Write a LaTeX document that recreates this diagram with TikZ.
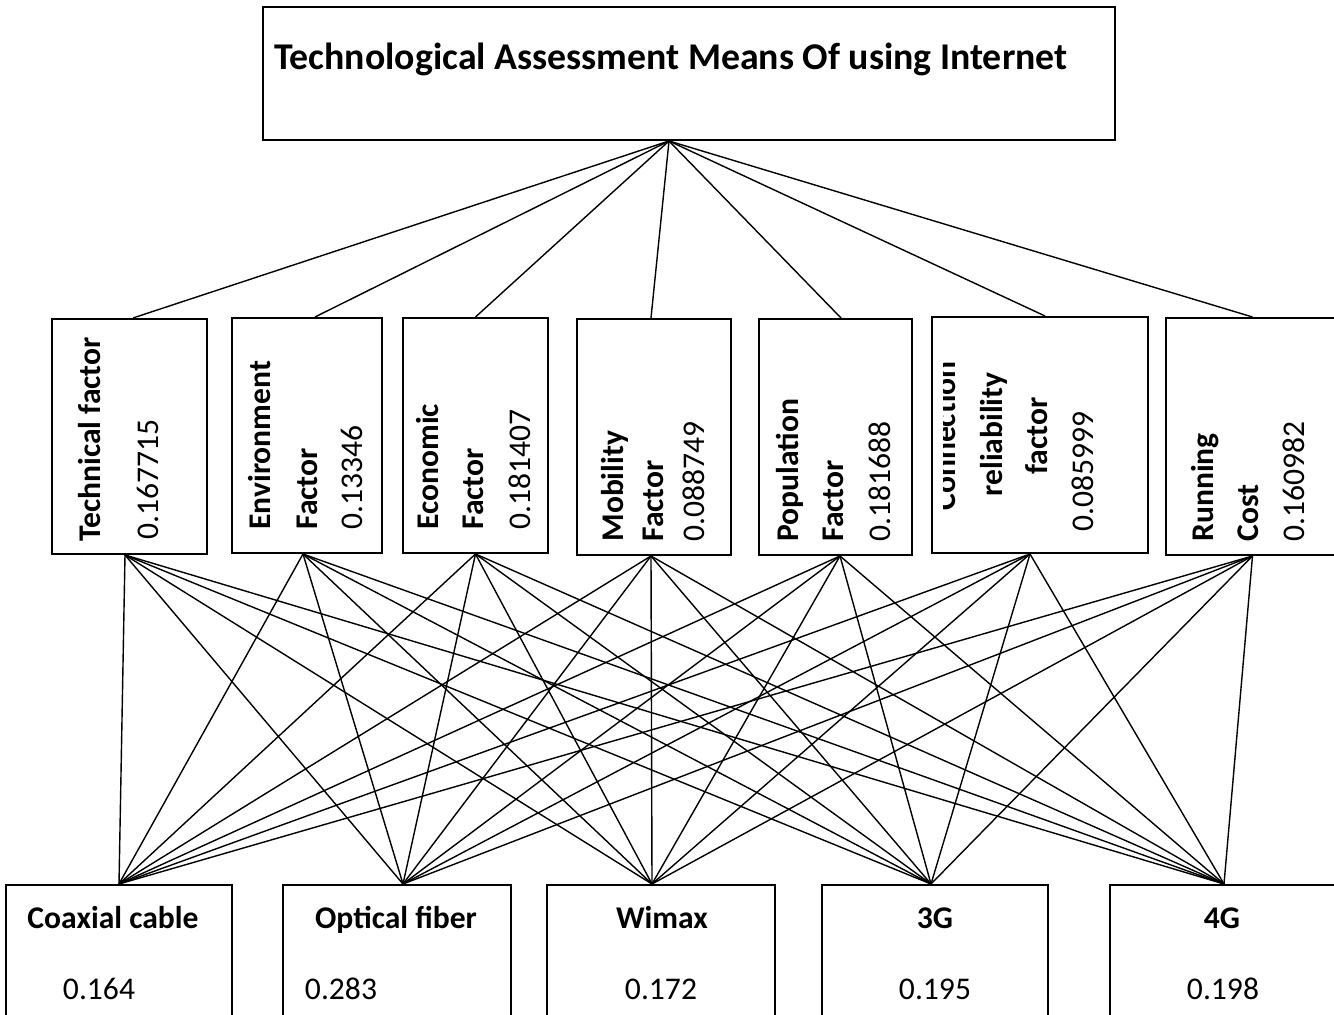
\documentclass[tikz,border=0pt]{standalone}
\usepackage{fontspec}
\setmainfont{Carlito}
\tikzset{
	box/.style={draw, line width=1pt, inner sep=0pt},
	link/.style={line width=0.7pt},
	lbl/.style={font=\fontsize{15.8}{19}\selectfont\bfseries, inner sep=0pt},
	num/.style={font=\fontsize{15.8}{19}\selectfont, inner sep=0pt},
	headline/.style={font=\fontsize{18.9}{22}\selectfont\bfseries, inner sep=0pt},
	vert/.style={rotate=90, anchor=base west}}

\begin{document}
\begin{tikzpicture}[x=0.5pt, y=-0.5pt]
		\clip (0,0) rectangle (1334,1015);

		% goal
		\node[box, minimum width=426pt, minimum height=66.5pt] (goal) at (689,73.5) {};
		\node[headline, anchor=base west] (goaltext) at (274,70) {Technological Assessment Means Of using Internet};
		\coordinate (apex) at ([xshift=-10pt]goal.south);

		% criteria
		\node[box, minimum width=77.5pt, minimum height=117.5pt] (f1) at (129.5,436.5) {};
		\node[box, minimum width=75pt, minimum height=117.5pt] (f2) at (307,435.5) {};
		\node[box, minimum width=72.5pt, minimum height=117.5pt] (f3) at (475.5,435.5) {};
		\node[box, minimum width=77pt, minimum height=118pt] (f4) at (654,437) {};
		\node[box, minimum width=76.5pt, minimum height=118pt] (f5) at (835.5,437) {};
		\node[box, minimum width=108pt, minimum height=118pt] (f6) at (1040,435) {};
		\node[box, minimum width=86.5pt, minimum height=118.5pt] (f7) at (1252.5,436.5) {};

		\node[lbl, vert] (f1n) at (100,542) {Technical factor};
		\node[num, vert] (f1v) at (158,540) {0.167715};
		\node[lbl, vert] (f2n) at (270,530) {Environment};
		\node[lbl, vert] (f2m) at (317,530) {Factor};
		\node[num, vert] (f2v) at (362,530) {0.13346};
		\node[lbl, vert] (f3n) at (438,530) {Economic};
		\node[lbl, vert] (f3m) at (483,530) {Factor};
		\node[num, vert] (f3v) at (530,530) {0.181407};
		\node[lbl, vert] (f4n) at (623,542) {Mobility};
		\node[lbl, vert] (f4m) at (663,542) {Factor};
		\node[num, vert] (f4v) at (704,542) {0.088749};
		\node[lbl, vert] (f5n) at (798,542) {Population};
		\node[lbl, vert] (f5m) at (843,542) {Factor};
		\node[num, vert] (f5v) at (890,542) {0.181688};
		\begin{scope}
			\clip (943,318) rectangle (1148,553);
			\node[lbl, rotate=90, anchor=base] (f6n) at (955,436) {Connection};
		\end{scope}
		\node[lbl, rotate=90, anchor=base] (f6m) at (1002,434.5) {reliability};
		\node[lbl, rotate=90, anchor=base] (f6k) at (1047,436) {factor};
		\node[num, rotate=90, anchor=base] (f6v) at (1093,471.5) {0.085999};
		\node[lbl, vert] (f7n) at (1213,542) {Running};
		\node[lbl, vert] (f7m) at (1258,542) {Cost};
		\node[num, vert] (f7v) at (1304,542) {0.160982};

		% alternatives
		\node[box, minimum width=113pt, minimum height=77.5pt] (a1) at (119,962.5) {};
		\node[box, minimum width=114pt, minimum height=77.5pt] (a2) at (397,962.5) {};
		\node[box, minimum width=114pt, minimum height=77.5pt] (a3) at (661,962.5) {};
		\node[box, minimum width=113pt, minimum height=77.5pt] (a4) at (935,962.5) {};
		\node[box, minimum width=114pt, minimum height=77.5pt] (a5) at (1224,962.5) {};

		\node[lbl, anchor=base] (a1n) at (113,928) {Coaxial cable};
		\node[num, anchor=base] (a1v) at (99,999) {0.164};
		\node[lbl, anchor=base] (a2n) at (396,928) {Optical fiber};
		\node[num, anchor=base] (a2v) at (341,999) {0.283};
		\node[lbl, anchor=base] (a3n) at (662,928) {Wimax};
		\node[num, anchor=base] (a3v) at (661,999) {0.172};
		\node[lbl, anchor=base] (a4n) at (935,928) {3G};
		\node[num, anchor=base] (a4v) at (935,999) {0.195};
		\node[lbl, anchor=base] (a5n) at (1222,928) {4G};
		\node[num, anchor=base] (a5v) at (1223,999) {0.198};

		% goal to criteria
		\draw[link]
		(apex) edge ([xshift=1.75pt]f1.north)
		(apex) edge ([xshift=4pt]f2.north)
		(apex) edge (f3.north)
		(apex) edge ([xshift=-1.5pt]f4.north)
		(apex) edge ([xshift=2.75pt]f5.north)
		(apex) edge ([xshift=2.5pt]f6.north)
		(apex) edge (f7.north)
		;

		% criteria to alternatives
		\draw[link] ([xshift=-2.25pt]f1.south) edge (a1.north) edge ([xshift=3pt]a2.north) edge ([xshift=-4.5pt]a3.north) edge ([xshift=-2pt]a4.north) edge (a5.north);
		\draw[link] ([xshift=-2pt]f2.south) edge (a1.north) edge ([xshift=3pt]a2.north) edge ([xshift=-4.5pt]a3.north) edge ([xshift=-2pt]a4.north) edge (a5.north);
		\draw[link] (f3.south) edge (a1.north) edge ([xshift=3pt]a2.north) edge ([xshift=-4.5pt]a3.north) edge ([xshift=-2pt]a4.north) edge (a5.north);
		\draw[link] ([xshift=-1.5pt]f4.south) edge (a1.north) edge ([xshift=3pt]a2.north) edge ([xshift=-4.5pt]a3.north) edge ([xshift=-2pt]a4.north) edge (a5.north);
		\draw[link] ([xshift=2.25pt]f5.south) edge (a1.north) edge ([xshift=3pt]a2.north) edge ([xshift=-4.5pt]a3.north) edge ([xshift=-2pt]a4.north) edge (a5.north);
		\draw[link] ([xshift=-5pt]f6.south) edge (a1.north) edge ([xshift=3pt]a2.north) edge ([xshift=-4.5pt]a3.north) edge ([xshift=-2pt]a4.north) edge (a5.north);
		\draw[link] (f7.south) edge (a1.north) edge ([xshift=3pt]a2.north) edge ([xshift=-4.5pt]a3.north) edge ([xshift=-2pt]a4.north) edge (a5.north);
	\end{tikzpicture}
\end{document}
